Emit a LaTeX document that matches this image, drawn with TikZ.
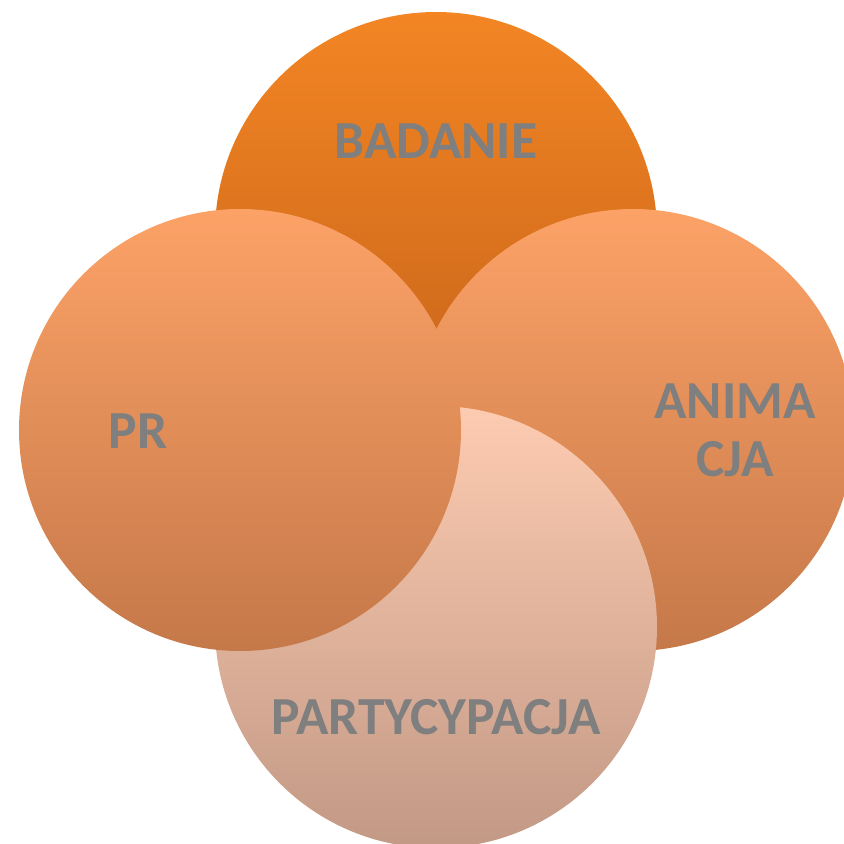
\documentclass[tikz,border=0pt]{standalone}
\usepackage{fontspec}
\setmainfont{Carlito}
\definecolor{badtop}{HTML}{F38523}
\definecolor{badbot}{HTML}{C4621A}
\definecolor{animtop}{HTML}{FCA267}
\definecolor{animbot}{HTML}{C57849}
\definecolor{prtop}{HTML}{FCA267}
\definecolor{prbot}{HTML}{C57849}
\definecolor{parttop}{HTML}{FDCBB1}
\definecolor{partbot}{HTML}{C29985}
\definecolor{txtgray}{HTML}{7F7F7F}

\begin{document}
\begin{tikzpicture}[x=1pt,y=-1pt,
	ring/.style={circle, minimum size=442pt, inner sep=0pt},
	lbl/.style={text=txtgray, font=\fontsize{53.5}{58}\selectfont\bfseries, align=center}]
	\useasboundingbox (0,0) rectangle (844,844);
	\def\circles {c0/436/233/bad, c1/633/430/anim, c2/436/627/part, c3/240/430/pr}  % drawn in this order
	\foreach \n\x\y\c in \circles
	{	\node[ring, top color=\c top, bottom color=\c bot] (\n) at (\x,\y) {};
	}
	\node[lbl] (t0) at (436,141) {BADANIE};
	\node[lbl] (t1) at (735,430) {ANIMA\\CJA};
	\node[lbl] (t2) at (436,717) {PARTYCYPACJA};
	\node[lbl] (t3) at (138,431) {PR};
\end{tikzpicture}
\end{document}
